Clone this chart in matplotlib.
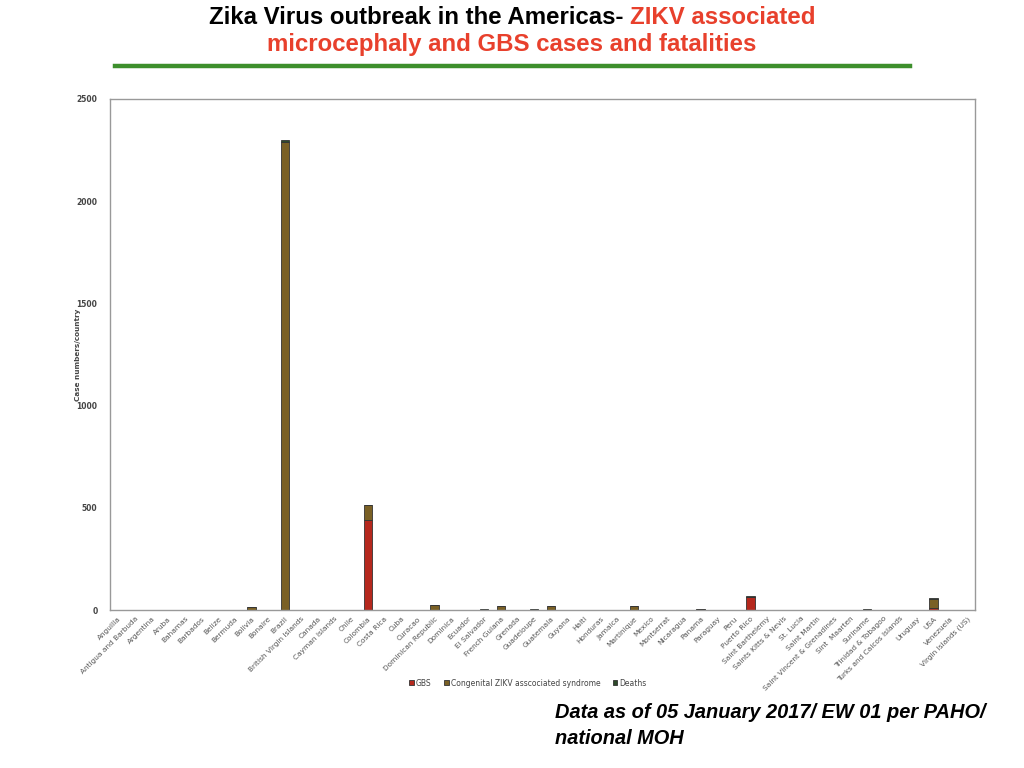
import numpy as np
import matplotlib
matplotlib.use("Agg")
import matplotlib.pyplot as plt
from matplotlib import font_manager

countries = ["Anguilla", "Antigua and Barbuda", "Argentina", "Aruba", "Bahamas", "Barbados",
             "Belize", "Bermuda", "Bolivia", "Bonaire", "Brazil", "British Virgin Islands",
             "Canada", "Cayman Islands", "Chile", "Colombia", "Costa Rica", "Cuba", "Curacao",
             "Dominican Republic", "Dominica", "Ecuador", "El Salvador", "French Guiana",
             "Grenada", "Guadeloupe", "Guatemala", "Guyana", "Haiti", "Honduras", "Jamaica",
             "Martinique", "Mexico", "Montserrat", "Nicaragua", "Panama", "Paraguay", "Peru",
             "Puerto Rico", "Saint Barthelemy", "Saints Kitts & Nevis", "St. Lucia",
             "Saint Martin", "Saint Vincent & Grenadines", "Sint  Maarten", "Suriname",
             "Trinidad & Tobagoo", "Turks and Caicos Islands", "Uruguay", "USA", "Venezuela",
             "Virgin Islands (US)"]

gbs = {"Colombia": 440, "Puerto Rico": 63, "USA": 12}
congenital = {"Argentina": 1, "Bolivia": 14, "Brazil": 2289, "Canada": 1, "Colombia": 74,
              "Costa Rica": 1, "Dominican Republic": 25, "French Guiana": 18, "Grenada": 1,
              "Guatemala": 18, "Haiti": 1, "Honduras": 1, "Martinique": 20, "Mexico": 1,
              "Nicaragua": 1, "Panama": 3, "Paraguay": 1, "Sint  Maarten": 1,
              "Trinidad & Tobagoo": 1, "USA": 40}
deaths = {"Brazil": 12, "Colombia": 2, "El Salvador": 3, "Guadeloupe": 3, "Panama": 1,
          "Puerto Rico": 6, "Suriname": 3, "USA": 6}

gbs_v = np.array([gbs.get(c, 0) for c in countries], dtype=float)
cong_v = np.array([congenital.get(c, 0) for c in countries], dtype=float)
death_v = np.array([deaths.get(c, 0) for c in countries], dtype=float)

names = {f.name for f in font_manager.fontManager.ttflist}
title_font = "Liberation Sans Narrow" if "Liberation Sans Narrow" in names else "Liberation Sans"
title_size = 18 if title_font == "Liberation Sans Narrow" else 17.3

fig = plt.figure(figsize=(10.24, 7.68), dpi=100)
ax = fig.add_axes([110/1024, 1-610/768, 865/1024, 511/768])

x = np.arange(len(countries))
w = 0.5
ec = "#333333"
ax.bar(x, gbs_v, w, color="#b5281d", edgecolor=ec, linewidth=0.6, label="GBS")
ax.bar(x, cong_v, w, bottom=gbs_v, color="#7a6025", edgecolor=ec, linewidth=0.6,
       label="Congenital ZIKV asscociated syndrome")
ax.bar(x, death_v, w, bottom=gbs_v+cong_v, color="#2e4a2a", edgecolor=ec, linewidth=0.6,
       label="Deaths")

ax.set_xlim(-0.5, len(countries)-0.5)
ax.set_ylim(0, 2500)
ax.set_yticks([0, 500, 1000, 1500, 2000, 2500])
ax.tick_params(axis="y", length=0, labelsize=5.5, labelcolor="#444444", pad=9)
for lab in ax.get_yticklabels():
    lab.set_fontweight("bold")
ax.set_xticks(x)
ax.set_xticklabels(countries, rotation=45, ha="right", rotation_mode="anchor",
                   fontsize=5.3, color="#555555")
ax.tick_params(axis="x", length=0, pad=4)
for s in ax.spines.values():
    s.set_color("#999999")
    s.set_linewidth(1.0)
ax.set_ylabel("Case numbers/country", fontsize=5.2, color="#444444", fontweight="bold",
              labelpad=-3.5)

fig.legend(loc="center", bbox_to_anchor=(528/1024, 1-683/768), ncol=3, frameon=False,
           fontsize=5.5, handlelength=0.6, handleheight=0.6, handletextpad=0.3,
           columnspacing=1.6, labelcolor="#444444")

# title in two colours
renderer = fig.canvas.get_renderer()
s1 = "Zika Virus outbreak in the Americas-"
s2 = "ZIKV associated"
t1 = fig.text(0, 1-17/768, s1, fontsize=title_size, fontweight="bold", family=title_font,
              color="black", va="center")
t2 = fig.text(0, 1-17/768, s2, fontsize=title_size, fontweight="bold", family=title_font,
              color="#e8402c", va="center")
w1 = t1.get_window_extent(renderer).width
w2 = t2.get_window_extent(renderer).width
gap = 6
x0 = 512 - (w1 + gap + w2)/2
t1.set_x(x0/1024)
t2.set_x((x0 + w1 + gap)/1024)
fig.text(512/1024, 1-45/768, "microcephaly and GBS cases and fatalities", fontsize=title_size,
         fontweight="bold", family=title_font, color="#e8402c", ha="center", va="center")

fig.add_artist(plt.Line2D([115/1024, 910/1024], [1-66/768, 1-66/768], color="#3d8f2c",
                          linewidth=3.2, transform=fig.transFigure))

fig.text(555/1024, 1-713/768, "Data as of 05 January 2017/ EW 01 per PAHO/", fontsize=14.4,
         fontweight="bold", style="italic", family="Liberation Sans", va="center")
fig.text(555/1024, 1-738/768, "national MOH", fontsize=14.4,
         fontweight="bold", style="italic", family="Liberation Sans", va="center")

fig.savefig("out.png", dpi=100)
